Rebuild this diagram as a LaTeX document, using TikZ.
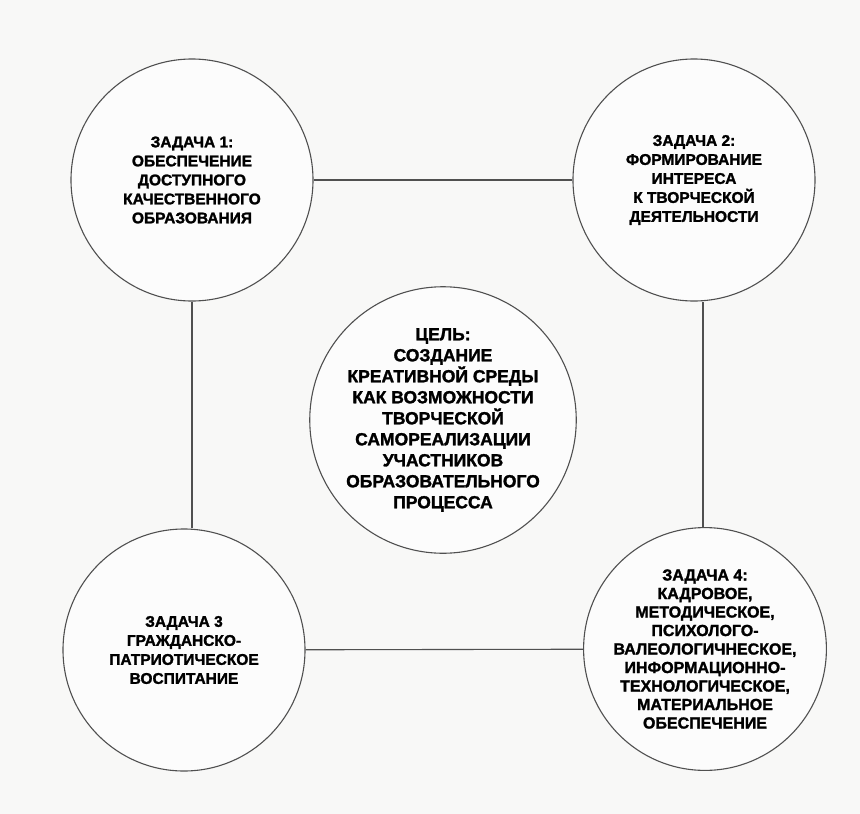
\documentclass[tikz,border=0pt]{standalone}
\usepackage{fontspec}
\setmainfont[BoldFeatures={FakeBold=1.6}]{Liberation Sans}
\usepackage{tikz}
\definecolor{linegray}{RGB}{80, 80, 80}
\definecolor{papercolor}{RGB}{248, 248, 247}

\begin{document}
\begin{tikzpicture}[x=1pt, y=-1pt,
        task/.style={circle, draw=linegray, line width=1.1pt, fill=white!60!papercolor,
            minimum size=242pt, inner sep=0pt, align=center,
            font=\bfseries\fontsize{15.5}{19}\selectfont},
        goal/.style={task, minimum size=262pt, font=\bfseries\fontsize{17.5}{21}\selectfont},
        link/.style={draw=linegray, line width=1.1pt}]
        % фон
        \fill[papercolor] (0,0) rectangle (860,814);
        \useasboundingbox (0,0) rectangle (860,814);

        % цель
        \node[goal] (goal) at (443,420) {ЦЕЛЬ:\\СОЗДАНИЕ\\КРЕАТИВНОЙ СРЕДЫ\\КАК ВОЗМОЖНОСТИ\\ТВОРЧЕСКОЙ\\САМОРЕАЛИЗАЦИИ\\УЧАСТНИКОВ\\ОБРАЗОВАТЕЛЬНОГО\\ПРОЦЕССА};

        % задачи
        \node[task] (task1) at (192,180) {ЗАДАЧА 1:\\ОБЕСПЕЧЕНИЕ\\ДОСТУПНОГО\\КАЧЕСТВЕННОГО\\ОБРАЗОВАНИЯ};
        \node[task] (task2) at (694,180) {ЗАДАЧА 2:\\ФОРМИРОВАНИЕ\\ИНТЕРЕСА\\К ТВОРЧЕСКОЙ\\ДЕЯТЕЛЬНОСТИ};
        \node[task] (task3) at (184,650) {ЗАДАЧА 3\\ГРАЖДАНСКО-\\ПАТРИОТИЧЕСКОЕ\\ВОСПИТАНИЕ};
        \node[task, font=\bfseries\fontsize{16}{18.5}\selectfont] (task4) at (705,649) {ЗАДАЧА 4:\\КАДРОВОЕ,\\МЕТОДИЧЕСКОЕ,\\ПСИХОЛОГО-\\ВАЛЕОЛОГИЧНЕСКОЕ,\\ИНФОРМАЦИОННО-\\ТЕХНОЛОГИЧЕСКОЕ,\\МАТЕРИАЛЬНОЕ\\ОБЕСПЕЧЕНИЕ};

        % связи
        \draw[link] (task1) -- (task2);
        \draw[link] (task3) -- (task4);
        \draw[link] (task1.south) -- (task1.south |- task3.north);
        \draw[link] ([xshift=-2pt]task4.north) -- ([xshift=-2pt]task4.north |- task2.south);
\end{tikzpicture}
\end{document}
